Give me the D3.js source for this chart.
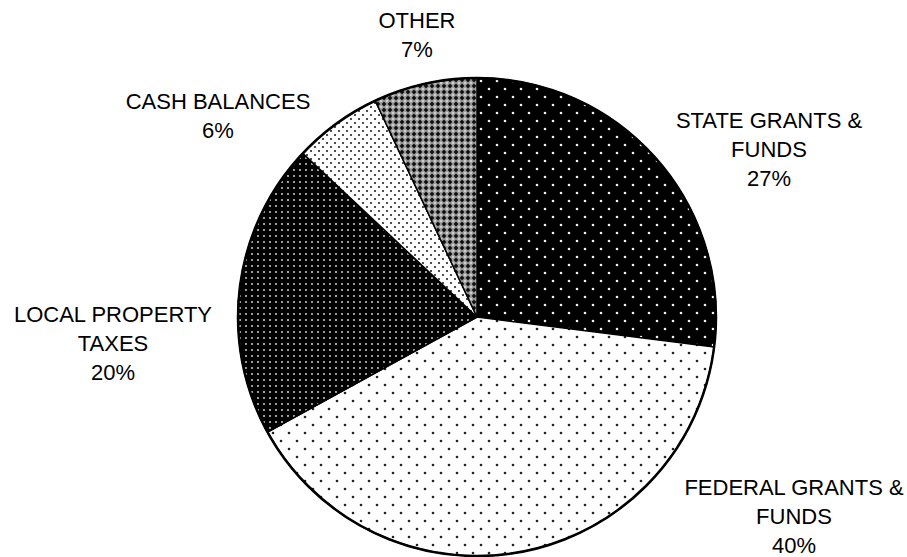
<!DOCTYPE html>
<html>
    <head>
        <meta charset="utf-8">
        <title>revenue sources</title>
        <script src="https://d3js.org/d3.v7.min.js"></script>
        <style>
            body { margin: 0; background: white; }
        </style>
    </head>
    <body>
    <script type="text/javascript">
    // chart data
    var categories = ["STATE GRANTS & FUNDS", "FEDERAL GRANTS & FUNDS", "LOCAL PROPERTY TAXES", "CASH BALANCES", "OTHER"];
    var shares = [27, 40, 20, 6, 7];
    var labelLines = [["STATE GRANTS &", "FUNDS"], ["FEDERAL GRANTS &", "FUNDS"], ["LOCAL PROPERTY", "TAXES"], ["CASH BALANCES"], ["OTHER"]];

    // layout
    var size = {width: 907, height: 557};
    var pieCenter = {x: 477, y: 317};
    var radius = 239;
    var lineHeight = 29;
    // label anchor (center x, first baseline) per slice
    var labelPos = [[769, 128], [794, 495], [113, 322], [218, 109], [417, 28]];
    var fills = ["url(#bigDark)", "url(#bigLight)", "url(#smallDark)", "url(#smallLight)", "url(#checker)"];

    var svg = d3.select("body")
                .append("svg")
                .attr("width", size.width)
                .attr("height", size.height);

    //patterns
    var defs = svg.append("defs");

    function dotPattern(id, w, bg, fg, r, pts){
        var p = defs.append("pattern")
                    .attr("id", id)
                    .attr("patternUnits", "userSpaceOnUse")
                    .attr("width", w)
                    .attr("height", w);
        p.append("rect").attr("width", w).attr("height", w).attr("fill", bg);
        pts.forEach(function(d){
            p.append("circle").attr("cx", d[0]).attr("cy", d[1]).attr("r", r).attr("fill", fg);
        });
        return p;
    }

    dotPattern("bigDark", 16, "black", "#f0f0f0", 1.3, [[4, 4], [12, 12]]);
    dotPattern("bigLight", 16, "white", "#222", 1.3, [[4, 4], [12, 12]]);
    dotPattern("smallDark", 6, "black", "#cfcfcf", 1.0, [[3, 3]]);
    dotPattern("smallLight", 8, "white", "#222", 1.1, [[2, 2], [6, 6]]);

    var chk = defs.append("pattern")
                  .attr("id", "checker")
                  .attr("patternUnits", "userSpaceOnUse")
                  .attr("width", 6)
                  .attr("height", 6);
    chk.append("rect").attr("width", 6).attr("height", 6).attr("fill", "#a0a0a0");
    chk.append("path").attr("d", "M3 0.6 L5.4 3 L3 5.4 L0.6 3 Z").attr("fill", "#111");
    [[0, 0], [6, 0], [0, 6], [6, 6]].forEach(function(c){
        chk.append("rect")
           .attr("x", c[0] - 0.7).attr("y", c[1] - 0.7)
           .attr("width", 1.4).attr("height", 1.4)
           .attr("fill", "white");
    });

    //pie
    var pie = d3.pie().sort(null).value(function(d){ return d; });
    var arc = d3.arc().innerRadius(0).outerRadius(radius);

    var g = svg.append("g")
               .attr("transform", "translate(" + pieCenter.x + "," + pieCenter.y + ")");

    g.selectAll("path.slice")
     .data(pie(shares))
     .enter()
     .append("path")
     .attr("class", "slice")
     .attr("d", arc)
     .attr("fill", function(d, i){ return fills[i]; })
     .attr("stroke", "black")
     .attr("stroke-width", 1.5)
     .attr("stroke-linejoin", "round");

    g.append("circle")
     .attr("r", radius)
     .attr("fill", "none")
     .attr("stroke", "black")
     .attr("stroke-width", 2.5);

    //labels
    var labels = svg.append("g")
                    .attr("font-family", "Arial, 'Liberation Sans', sans-serif")
                    .attr("font-size", 22)
                    .attr("text-anchor", "middle")
                    .attr("fill", "black");

    categories.forEach(function(c, i){
        var t = labels.append("text")
                      .attr("x", labelPos[i][0])
                      .attr("y", labelPos[i][1]);
        var lines = labelLines[i].concat([shares[i] + "%"]);
        lines.forEach(function(l, j){
            t.append("tspan")
             .attr("x", labelPos[i][0])
             .attr("dy", j == 0 ? 0 : lineHeight)
             .text(l);
        });
    });
    </script>
    </body>
</html>
